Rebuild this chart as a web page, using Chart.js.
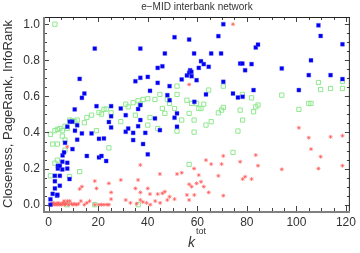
<!DOCTYPE html>
<html>
<head>
<meta charset="utf-8">
<script src="https://cdn.jsdelivr.net/npm/chart.js@4/dist/chart.umd.min.js"></script>
<style>
    html, body { margin: 0; padding: 0; background: #fff; }
    #wrap { width: 360px; height: 253px; }
</style>
</head>
<body>
<div id="wrap"><canvas id="chart" width="360" height="253"></canvas></div>
<script>
// 坐标轴刻度
const kTicks = [0, 20, 40, 60, 80, 100, 120];
const valueTicks = [0, 0.2, 0.4, 0.6, 0.8, 1.0];

// Closeness（蓝色实心方块）[k, value]
const closenessPts = [
    [0.7, 0.0], [0.7, 0.03], [1.6, 0.06], [2.5, 0.09], [2.5, 0.13], [2.5, 0.16],
    [3.4, 0.05], [3.7, 0.2], [3.7, 0.215], [4.5, 0.215], [4.5, 0.16], [4.5, 0.105],
    [3.5, 0.055], [5.5, 0.238], [5.5, 0.195], [5.6, 0.273], [6.2, 0.29], [6.6, 0.343],
    [7.5, 0.432], [7.5, 0.232], [7.5, 0.2], [8.4, 0.142], [8.5, 0.46], [9.5, 0.46],
    [9.6, 0.308], [10.5, 0.528], [10.6, 0.41], [11.5, 0.44], [11.5, 0.36], [12.5, 0.697],
    [13.4, 0.592], [13.4, 0.395], [14.4, 0.616], [15.4, 0.27], [17.3, 0.395], [18.6, 0.865],
    [19.3, 0.546], [20.3, 0.365], [20.3, 0.262], [21.3, 0.27], [22.3, 0.367], [23.2, 0.242],
    [24.3, 0.458], [25.2, 0.546], [25.2, 0.49], [25.2, 0.428], [29.1, 0.533], [31.1, 0.496],
    [31.1, 0.404], [32.1, 0.422], [34.1, 0.358], [34.1, 0.398], [35.0, 0.684], [36.1, 0.53],
    [36.1, 0.435], [37.0, 0.552], [37.0, 0.469], [37.0, 0.703], [37.0, 0.865], [38.1, 0.336],
    [39.0, 0.398], [40.0, 0.708], [40.0, 0.279], [40.9, 0.631], [42.9, 0.478], [44.0, 0.675],
    [44.0, 0.758], [44.9, 0.413], [45.9, 0.767], [46.9, 0.838], [47.9, 0.607], [48.8, 0.579],
    [48.8, 0.657], [50.8, 0.928], [50.8, 0.482], [51.8, 0.506], [51.8, 0.432], [53.7, 0.694],
    [55.8, 0.716], [56.7, 0.915], [56.7, 0.731], [57.1, 0.745], [57.6, 0.736], [57.7, 0.712],
    [58.7, 0.838], [58.8, 0.57], [59.7, 0.69], [60.6, 0.758], [61.5, 0.795], [62.6, 0.779],
    [63.5, 0.611], [64.6, 0.764], [65.6, 0.838], [68.5, 0.934], [69.6, 0.838], [70.5, 1.0],
    [70.5, 0.681], [74.4, 0.616], [76.4, 0.594], [77.3, 0.782], [78.2, 0.782], [78.3, 0.598],
    [79.3, 0.745], [81.9, 0.779], [82.7, 0.635], [83.6, 0.871], [84.5, 0.887], [94.1, 0.755],
    [101.0, 0.635], [105.0, 0.718], [105.9, 0.8], [108.9, 0.994], [109.8, 0.935], [113.8, 0.718],
    [118.6, 0.889], [118.6, 0.696]
];

// PageRank（绿色空心方块）
const pageRankPts = [
    [2.5, 1.0], [0.7, 0.39], [0.7, 0.16], [1.6, 0.336], [2.5, 0.41], [2.5, 0.23],
    [3.5, 0.417], [3.5, 0.336], [3.5, 0.247], [4.5, 0.422], [5.5, 0.41], [5.5, 0.38],
    [6.6, 0.435], [6.6, 0.358], [6.6, 0.302], [7.5, 0.422], [8.4, 0.155], [7.5, 0.0],
    [8.5, 0.469], [9.5, 0.465], [10.5, 0.46], [11.5, 0.469], [12.5, 0.183], [14.4, 0.454],
    [15.4, 0.483], [17.3, 0.496], [18.6, 0.0], [19.3, 0.41], [20.3, 0.511], [21.3, 0.502],
    [22.3, 0.528], [23.2, 0.53], [24.3, 0.315], [25.2, 0.509], [29.1, 0.46], [31.1, 0.557],
    [32.1, 0.542], [34.1, 0.565], [35.0, 0.496], [36.1, 0.576], [36.1, 0.0], [37.0, 0.557],
    [38.1, 0.583], [40.0, 0.587], [40.0, 0.441], [40.9, 0.483], [42.9, 0.583], [44.0, 0.422],
    [44.9, 0.611], [45.9, 0.533], [46.9, 0.506], [47.9, 0.583], [48.8, 0.561], [50.8, 0.533],
    [51.8, 0.657], [51.8, 0.611], [51.8, 0.408], [53.7, 0.469], [55.8, 0.579], [56.7, 0.223],
    [56.7, 0.506], [57.7, 0.561], [58.7, 0.402], [58.7, 0.469], [59.7, 0.561], [60.6, 0.533],
    [61.5, 0.533], [62.6, 0.557], [63.5, 0.441], [64.6, 0.635], [65.6, 0.46], [68.5, 0.509],
    [69.8, 0.524], [70.5, 0.657], [70.5, 0.539], [74.4, 0.29], [76.4, 0.408], [77.3, 0.524],
    [78.2, 0.611], [78.3, 0.469], [81.9, 0.592], [82.7, 0.515], [83.6, 0.542], [84.5, 0.552],
    [94.1, 0.607], [101.0, 0.528], [105.0, 0.561], [105.9, 0.561], [108.9, 0.677], [109.8, 0.638],
    [113.8, 0.644], [118.6, 0.683], [118.6, 0.644]
];

// InfoRank（红色星号）
const infoRankPts = [
    [0.7, 0.0], [1.2, 0.005], [1.6, 0.0], [2.0, 0.01], [2.5, 0.0], [3.0, 0.005],
    [3.4, 0.0], [3.8, 0.01], [4.3, 0.0], [4.8, 0.005], [5.3, 0.0], [5.8, 0.01],
    [6.2, 0.02], [6.4, 0.0], [7.0, 0.005], [7.5, 0.02], [8.0, 0.0], [8.5, 0.02],
    [9.2, 0.005], [9.8, 0.0], [10.5, 0.005], [11.2, 0.0], [12.0, 0.005], [13.0, 0.02],
    [14.4, 0.0], [15.4, 0.01], [16.5, 0.02], [18.6, 0.0], [20.3, 0.0], [21.3, 0.0],
    [22.3, 0.0], [23.5, 0.0], [24.3, 0.0], [33.0, 0.01], [35.5, 0.005], [38.0, 0.015],
    [39.5, 0.01], [41.0, 0.0], [43.0, 0.02], [45.0, 0.01],
    [74.4, 1.0], [7.5, 0.321], [12.5, 0.087], [13.4, 0.1], [18.6, 0.131], [19.3, 0.09],
    [24.3, 0.118], [25.2, 0.068], [25.2, 0.031], [29.1, 0.137], [31.1, 0.026], [35.0, 0.09],
    [36.1, 0.137], [37.0, 0.22], [37.0, 0.068], [37.0, 0.026], [40.0, 0.09], [40.9, 0.059],
    [44.0, 0.059], [44.9, 0.17], [45.9, 0.063], [46.9, 0.072], [47.9, 0.026], [48.8, 0.044],
    [50.8, 0.031], [51.8, 0.17], [53.7, 0.177], [55.8, 0.054], [56.7, 0.113], [56.7, 0.026],
    [57.7, 0.1], [58.7, 0.2], [58.8, 0.054], [59.7, 0.118], [60.6, 0.164], [61.5, 0.127],
    [62.6, 0.1], [63.5, 0.247], [64.6, 0.068], [65.6, 0.225], [68.5, 0.16], [69.8, 0.225],
    [70.5, 0.27], [70.5, 0.05], [56.7, 0.666], [77.3, 0.238], [78.3, 0.142], [79.3, 0.155],
    [81.9, 0.142], [83.6, 0.275], [84.5, 0.216], [94.1, 0.196], [101.0, 0.426], [105.0, 0.371],
    [105.9, 0.308], [108.9, 0.2], [109.8, 0.266], [113.8, 0.376], [118.6, 0.382], [118.6, 0.216]
];

const toXY = pts => pts.map(p => ({ x: p[0], y: p[1] }));

// 边框、内向刻度、标题和 x 轴标签
const framePlugin = {
    id: 'frame',
    afterDraw(chart) {
        const ctx = chart.ctx;
        const a = chart.chartArea;
        const xs = chart.scales.x;
        const ys = chart.scales.y;
        ctx.save();

        // 刻度
        ctx.strokeStyle = '#444';
        ctx.lineWidth = 1;
        for (let v = 0; v <= 120; v += 5) {
            const px = Math.round(xs.getPixelForValue(v)) + 0.5;
            const len = v % 20 === 0 ? 5 : 3;
            ctx.beginPath();
            ctx.moveTo(px, a.bottom); ctx.lineTo(px, a.bottom - len);
            ctx.moveTo(px, a.top); ctx.lineTo(px, a.top + len);
            ctx.stroke();
        }
        for (let i = 0; i <= 20; i++) {
            const py = Math.round(ys.getPixelForValue(i * 0.05)) + 0.5;
            const len = i % 4 === 0 ? 5 : 3;
            ctx.beginPath();
            ctx.moveTo(a.left, py); ctx.lineTo(a.left + len, py);
            ctx.moveTo(a.right, py); ctx.lineTo(a.right - len, py);
            ctx.stroke();
        }

        // 边框
        ctx.strokeStyle = '#222';
        ctx.lineWidth = 1;
        ctx.beginPath();
        ctx.moveTo(a.left, a.top + 0.5); ctx.lineTo(a.right, a.top + 0.5);
        ctx.moveTo(a.right - 0.5, a.top); ctx.lineTo(a.right - 0.5, a.bottom);
        ctx.stroke();
        ctx.strokeStyle = '#808080';
        ctx.lineWidth = 2;
        ctx.beginPath();
        ctx.moveTo(a.left - 1, a.bottom + 1); ctx.lineTo(a.right, a.bottom + 1);
        ctx.moveTo(a.left, a.top); ctx.lineTo(a.left, a.bottom + 1);
        ctx.stroke();

        // 标题
        ctx.fillStyle = '#333';
        ctx.font = '10px "Liberation Sans", Arial, sans-serif';
        ctx.textAlign = 'center';
        ctx.textBaseline = 'middle';
        ctx.fillText('e\u2212MID interbank network', (a.left + a.right) / 2, 7);

        // x 轴标签 k^tot
        const cx = (a.left + a.right) / 2;
        ctx.textBaseline = 'alphabetic';
        ctx.textAlign = 'left';
        ctx.font = 'italic 14px "Liberation Sans", Arial, sans-serif';
        ctx.fillText('k', cx - 9, 247);
        ctx.font = '9px "Liberation Sans", Arial, sans-serif';
        ctx.fillText('tot', cx - 1, 234);
        ctx.restore();
    }
};

const ctx = document.getElementById('chart').getContext('2d');
new Chart(ctx, {
    type: 'scatter',
    data: {
        datasets: [
            {
                label: 'Closeness',
                data: toXY(closenessPts),
                pointStyle: 'rect',
                pointRadius: 2.8,
                backgroundColor: '#0000f0',
                borderColor: 'rgba(90,90,255,0.6)',
                borderWidth: 0.6
            },
            {
                label: 'InfoRank',
                data: toXY(infoRankPts),
                pointStyle: 'star',
                pointRadius: 2,
                backgroundColor: 'rgba(255,90,90,0.7)',
                borderColor: 'rgba(255,90,90,0.7)',
                borderWidth: 1
            },
            {
                label: 'PageRank',
                data: toXY(pageRankPts),
                pointStyle: 'rect',
                pointRadius: 3,
                backgroundColor: 'rgba(0,0,0,0)',
                borderColor: '#8fe88f',
                borderWidth: 1
            }
        ]
    },
    options: {
        responsive: false,
        animation: false,
        events: [],
        layout: { padding: { top: 17, right: 2, left: 0, bottom: 0 } },
        plugins: {
            legend: { display: false },
            tooltip: { enabled: false }
        },
        scales: {
            x: {
                type: 'linear',
                min: -1.9,
                max: 121.6,
                grid: { display: false, drawTicks: false },
                border: { display: false },
                afterBuildTicks: s => { s.ticks = kTicks.map(v => ({ value: v })); },
                afterFit: s => { s.height = 42; },
                ticks: {
                    padding: 4,
                    maxRotation: 0,
                    color: '#333',
                    font: { family: '"Liberation Sans", Arial, sans-serif', size: 12 }
                }
            },
            y: {
                type: 'linear',
                min: -0.035,
                max: 1.04,
                grid: { display: false, drawTicks: false },
                border: { display: false },
                afterBuildTicks: s => { s.ticks = valueTicks.map(v => ({ value: v })); },
                afterFit: s => { s.width = 44; },
                ticks: {
                    padding: 4,
                    color: '#333',
                    callback: v => Number(v).toFixed(1),
                    font: { family: '"Liberation Sans", Arial, sans-serif', size: 12 }
                },
                title: {
                    display: true,
                    text: 'Closeness, PageRank, InfoRank',
                    color: '#333',
                    padding: { top: 1, bottom: 0 },
                    font: { family: '"Liberation Sans", Arial, sans-serif', size: 13 }
                }
            }
        }
    },
    plugins: [framePlugin]
});
</script>
</body>
</html>
